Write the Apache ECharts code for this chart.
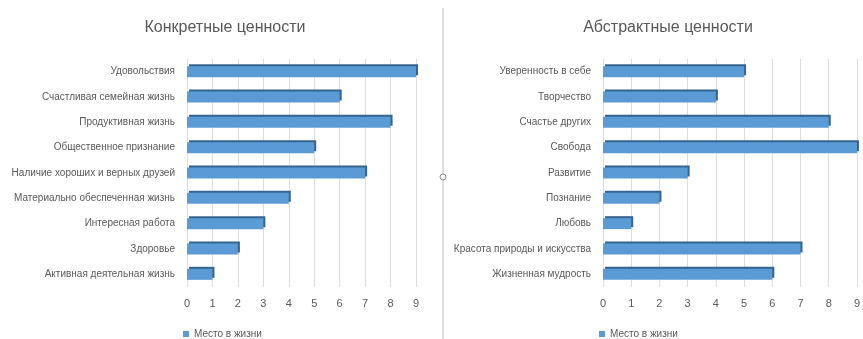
<!DOCTYPE html>
<html><head><meta charset="utf-8">
<script src="https://cdn.jsdelivr.net/npm/echarts@6/dist/echarts.min.js"></script>
<style>html,body{margin:0;padding:0;background:#fff}#c{width:863px;height:339px}</style>
</head><body><div id="c"></div>
<script>
const leftTitle = 'Конкретные ценности';
const leftCats = ['Удовольствия','Счастливая семейная жизнь','Продуктивная жизнь','Общественное признание','Наличие хороших и верных друзей','Материально обеспеченная жизнь','Интересная работа','Здоровье','Активная деятельная жизнь'];
const leftVals = [9,6,8,5,7,4,3,2,1];
const rightTitle = 'Абстрактные ценности';
const rightCats = ['Уверенность в себе','Творчество','Счастье других','Свобода','Развитие','Познание','Любовь','Красота природы и искусства','Жизненная мудрость'];
const rightVals = [5,4,8,9,3,2,1,7,6];
const seriesName = 'Место в жизни';

const font = 'Liberation Sans';
const txt = '#595959';
const chart = echarts.init(document.getElementById('c'));
function xAx(i){return {gridIndex:i,type:'value',min:0,max:9,interval:1,
  axisLine:{show:false},axisTick:{show:false},
  axisLabel:{color:txt,fontFamily:font,fontSize:11,margin:11},
  splitLine:{lineStyle:{color:'#dedede',width:1}}};}
function yAx(i,cats){return {gridIndex:i,type:'category',data:cats,inverse:true,
  axisLine:{show:false},axisTick:{show:false},
  axisLabel:{color:txt,fontFamily:font,fontSize:10,margin:12}};}
function bar(i,vals){return {name:seriesName,type:'bar',xAxisIndex:i,yAxisIndex:i,data:vals,barWidth:11,
  itemStyle:{color:'#5b9bd5',shadowColor:'#35648f',shadowOffsetX:2,shadowOffsetY:-2,shadowBlur:0},
  animation:false};}
chart.setOption({
  animation:false,
  title:[
    {text:leftTitle,left:220,top:15,textAlign:'center',textStyle:{color:txt,fontFamily:font,fontSize:16,fontWeight:'normal'}},
    {text:rightTitle,left:663,top:15,textAlign:'center',textStyle:{color:txt,fontFamily:font,fontSize:16,fontWeight:'normal'}}
  ],
  legend:[
    {data:[seriesName],left:178,top:324,itemWidth:6,itemHeight:6,itemGap:4,textStyle:{color:txt,fontFamily:font,fontSize:10},icon:'rect'},
    {data:[seriesName],left:594,top:324,itemWidth:6,itemHeight:6,itemGap:4,textStyle:{color:txt,fontFamily:font,fontSize:10},icon:'rect'}
  ],
  grid:[
    {left:187,width:229,top:59,height:228},
    {left:603,width:255,top:59,height:228}
  ],
  xAxis:[xAx(0),xAx(1)],
  yAxis:[yAx(0,leftCats),yAx(1,rightCats)],
  series:[bar(0,leftVals),bar(1,rightVals)],
  graphic:[
    {type:'line',shape:{x1:443,y1:8,x2:443,y2:339},style:{stroke:'#bfbfbf',lineWidth:1}},
    {type:'circle',shape:{cx:443,cy:177,r:3},style:{fill:'#fff',stroke:'#8c8c8c',lineWidth:1}}
  ]
});
</script></body></html>
